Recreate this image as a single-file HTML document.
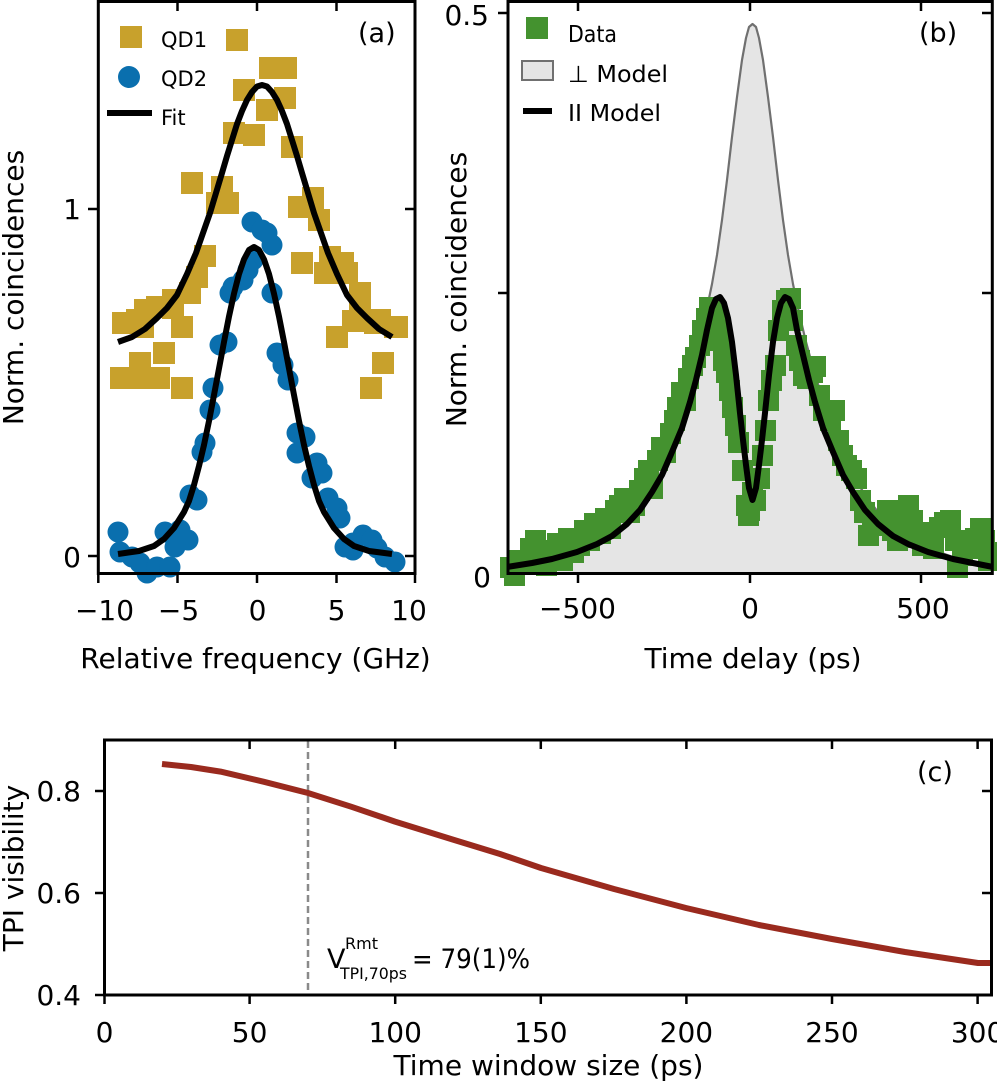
<!DOCTYPE html>
<html>
<head>
<meta charset="utf-8">
<style>
  html, body { margin: 0; padding: 0; background: #ffffff; }
  body { width: 997px; height: 1089px; overflow: hidden; }
  svg { display: block; }
  text { font-family: "DejaVu Sans", "Liberation Sans", sans-serif; fill: #000; }
</style>
</head>
<body>
<svg width="997" height="1089" viewBox="0 0 997 1089" xmlns="http://www.w3.org/2000/svg">
  <rect x="0" y="0" width="997" height="1089" fill="#ffffff"/>

  <!-- ================= PANEL (a) ================= -->
  <path fill="#C8A12C" d="
M226 29h22v22h-22z M259 57h22v22h-22z M275 57h22v22h-22z M233 79h22v22h-22z M274 87h22v22h-22z
M256 99h22v22h-22z M223 122h22v22h-22z M243 124h22v22h-22z M281 136h22v22h-22z M181 172h22v22h-22z
M211 176h22v22h-22z M206 192h22v22h-22z M217 192h22v22h-22z M288 196h22v22h-22z M302 187h22v22h-22z
M308 209h22v22h-22z M194 245h22v22h-22z M291 252h22v22h-22z M319 246h22v22h-22z M332 252h22v22h-22z
M314 262h22v22h-22z M336 262h22v22h-22z M186 266h22v22h-22z M179 282h22v22h-22z M162 289h22v22h-22z
M146 296h22v22h-22z M134 299h22v22h-22z M112 312h22v22h-22z M349 282h22v22h-22z M349 299h22v22h-22z
M369 309h22v22h-22z M386 316h22v22h-22z M126 309h22v22h-22z M132 316h22v22h-22z M162 297h22v22h-22z
M171 316h22v22h-22z M153 342h22v22h-22z M129 352h22v22h-22z M110 367h22v22h-22z M132 367h22v22h-22z
M148 367h22v22h-22z M171 377h22v22h-22z M326 326h22v22h-22z M342 310h22v22h-22z M364 312h22v22h-22z
M384 316h22v22h-22z M372 352h22v22h-22z M360 377h22v22h-22z"/>

  <g fill="#0A6FAE">
    <circle cx="252" cy="222" r="10.5"/><circle cx="262" cy="230" r="10.5"/><circle cx="267" cy="233" r="10.5"/>
    <circle cx="272" cy="245" r="10.5"/><circle cx="253" cy="260" r="10.5"/><circle cx="248" cy="270" r="10.5"/>
    <circle cx="243" cy="280" r="10.5"/><circle cx="233" cy="287" r="10.5"/><circle cx="230" cy="293" r="10.5"/>
    <circle cx="272" cy="293" r="10.5"/><circle cx="227" cy="342" r="10.5"/><circle cx="220" cy="345" r="10.5"/>
    <circle cx="277" cy="353" r="10.5"/><circle cx="283" cy="365" r="10.5"/><circle cx="288" cy="380" r="10.5"/>
    <circle cx="213" cy="388" r="10.5"/><circle cx="210" cy="410" r="10.5"/><circle cx="205" cy="443" r="10.5"/>
    <circle cx="202" cy="452" r="10.5"/><circle cx="297" cy="433" r="10.5"/><circle cx="305" cy="437" r="10.5"/>
    <circle cx="297" cy="453" r="10.5"/><circle cx="317" cy="463" r="10.5"/><circle cx="322" cy="473" r="10.5"/>
    <circle cx="312" cy="478" r="10.5"/><circle cx="328" cy="498" r="10.5"/><circle cx="337" cy="508" r="10.5"/>
    <circle cx="340" cy="518" r="10.5"/><circle cx="190" cy="495" r="10.5"/><circle cx="197" cy="500" r="10.5"/>
    <circle cx="118" cy="532" r="10.5"/><circle cx="120" cy="552" r="10.5"/><circle cx="132" cy="557" r="10.5"/>
    <circle cx="140" cy="563" r="10.5"/><circle cx="147" cy="573" r="10.5"/><circle cx="157" cy="567" r="10.5"/>
    <circle cx="170" cy="567" r="10.5"/><circle cx="165" cy="532" r="10.5"/><circle cx="180" cy="530" r="10.5"/>
    <circle cx="188" cy="540" r="10.5"/><circle cx="175" cy="547" r="10.5"/><circle cx="345" cy="547" r="10.5"/>
    <circle cx="353" cy="543" r="10.5"/><circle cx="363" cy="535" r="10.5"/><circle cx="372" cy="540" r="10.5"/>
    <circle cx="377" cy="548" r="10.5"/><circle cx="385" cy="557" r="10.5"/><circle cx="395" cy="562" r="10.5"/>
    <circle cx="353" cy="550" r="10.5"/>
  </g>

  <g fill="none" stroke="#000" stroke-width="6" stroke-linejoin="round" stroke-linecap="butt">
    <polyline points="118,342 132,337 145,329 157,318 167,308 177,295 187,274 196,253 203,233 210,213 216,193 222,173 227,156 232,140 237,124 242,111 247,100 252,92 257,86.5 262,85 267,86.5 272,92 277,100 282,111 287,124 292,140 297,156 302,173 308,193 314,213 321,233 328,253 337,274 347,295 357,308 367,318 379,329 392,337"/>
    <polyline points="118,554 139,551 154,546 164,539 174,528 184,512 189,501 194,485 199,466 204,445 209,421 214,395 219,368.5 224,342 229,316.5 234,293.6 239,274 244,259.4 249,250 254,247 259,250 264,259.4 269,274 274,293.6 279,316.5 284,342 289,368.5 294,395 299,421 304,445 309,466 314,485 319,501 324,512 334,528 344,539 354,546 369,551 392,554"/>
  </g>

  <rect x="98.3" y="1.5" width="316.7" height="572" fill="none" stroke="#000" stroke-width="3"/>
  <g stroke="#000" stroke-width="2.5">
    <line x1="98.3" y1="573" x2="98.3" y2="583"/>
    <line x1="177.5" y1="573" x2="177.5" y2="583"/>
    <line x1="257" y1="573" x2="257" y2="583"/>
    <line x1="336.5" y1="573" x2="336.5" y2="583"/>
    <line x1="415" y1="573" x2="415" y2="583"/>
    <line x1="177.5" y1="1" x2="177.5" y2="11"/>
    <line x1="257" y1="1" x2="257" y2="11"/>
    <line x1="336.5" y1="1" x2="336.5" y2="11"/>
    <line x1="88" y1="209" x2="98" y2="209"/>
    <line x1="88" y1="556" x2="98" y2="556"/>
    <line x1="405" y1="209" x2="415" y2="209"/>
    <line x1="405" y1="556" x2="415" y2="556"/>
  </g>
  <g font-size="28">
    <text x="81" y="219" text-anchor="end">1</text>
    <text x="81" y="567" text-anchor="end">0</text>
    <text x="104.5" y="620" text-anchor="middle">−10</text>
    <text x="178.5" y="620" text-anchor="middle">−5</text>
    <text x="257.5" y="620" text-anchor="middle">0</text>
    <text x="336.5" y="620" text-anchor="middle">5</text>
    <text x="409" y="620" text-anchor="middle">10</text>
    <text x="255.5" y="668" text-anchor="middle">Relative frequency (GHz)</text>
    <text transform="translate(23,287.5) rotate(-90)" text-anchor="middle">Norm. coincidences</text>
  </g>
  <rect x="120" y="26" width="22" height="22" fill="#C8A12C"/>
  <circle cx="129" cy="77" r="11" fill="#0A6FAE"/>
  <line x1="107" y1="113" x2="152" y2="113" stroke="#000" stroke-width="6"/>
  <g font-size="21">
    <text x="161" y="47">QD1</text>
    <text x="161" y="86">QD2</text>
    <text x="161" y="125">Fit</text>
  </g>
  <text x="358" y="42" font-size="27">(a)</text>

  <!-- ================= PANEL (b) ================= -->
  <path fill="#E5E5E5" stroke="none" d="M507,573 L507,567 532,562 552,557 577,548 597,537 612,526 627,512 640,495 652,475 662,455 672,430 682,400 692,368 700,338 707,308 712,284 717,255 722,220 727,180 732,137 737,97 742,60 746,38 749,27 752.5,24 756,27 759,38 763,60 768,97 773,137 778,180 783,220 788,255 793,284 798,308 805,338 813,368 823,400 833,430 843,455 853,475 865,495 878,512 893,526 908,537 928,548 953,557 973,562 993,567 L993,573 Z"/>
  <polyline fill="none" stroke="#707070" stroke-width="2.2" stroke-linejoin="round" points="507,567 532,562 552,557 577,548 597,537 612,526 627,512 640,495 652,475 662,455 672,430 682,400 692,368 700,338 707,308 712,284 717,255 722,220 727,180 732,137 737,97 742,60 746,38 749,27 752.5,24 756,27 759,38 763,60 768,97 773,137 778,180 783,220 788,255 793,284 798,308 805,338 813,368 823,400 833,430 843,455 853,475 865,495 878,512 893,526 908,537 928,548 953,557 973,562 993,567"/>

  <path fill="#44922F" d="
M500 557h21v21h-21z M504 565h21v21h-21z M509 550h21v21h-21z M515 552h21v21h-21z M520 538h21v21h-21z
M525 530h21v21h-21z M530 546h21v21h-21z M536 555h21v21h-21z M542 540h21v21h-21z M547 533h21v21h-21z
M552 550h21v21h-21z M558 528h21v21h-21z M563 542h21v21h-21z M569 535h21v21h-21z M574 520h21v21h-21z
M579 530h21v21h-21z M584 513h21v21h-21z M590 523h21v21h-21z M595 508h21v21h-21z M600 518h21v21h-21z
M605 500h21v21h-21z M609 495h21v21h-21z M614 488h21v21h-21z M619 502h21v21h-21z M624 495h21v21h-21z
M629 480h21v21h-21z M634 468h21v21h-21z M638 460h21v21h-21z M642 478h21v21h-21z M647 450h21v21h-21z
M651 437h21v21h-21z M655 442h21v21h-21z M660 423h21v21h-21z M664 410h21v21h-21z M667 397h21v21h-21z
M671 382h21v21h-21z M675 390h21v21h-21z M678 368h21v21h-21z M682 355h21v21h-21z M685 347h21v21h-21z
M689 335h21v21h-21z M692 320h21v21h-21z M696 308h21v21h-21z M699 297h21v21h-21z M703 303h21v21h-21z
M707 312h21v21h-21z M710 330h21v21h-21z M713 350h21v21h-21z M716 362h21v21h-21z M719 380h21v21h-21z
M722 397h21v21h-21z M725 415h21v21h-21z M728 432h21v21h-21z M732 460h21v21h-21z M736 495h21v21h-21z
M738 505h21v21h-21z M739 500h21v21h-21z M742 482h21v21h-21z M745 490h21v21h-21z M749 468h21v21h-21z
M752 445h21v21h-21z M755 420h21v21h-21z M758 390h21v21h-21z M761 370h21v21h-21z M765 355h21v21h-21z
M768 320h21v21h-21z M772 300h21v21h-21z M776 290h21v21h-21z M780 288h21v21h-21z M782 310h21v21h-21z
M786 335h21v21h-21z M789 350h21v21h-21z M793 365h21v21h-21z M797 368h21v21h-21z M802 362h21v21h-21z
M805 356h21v21h-21z M809 385h21v21h-21z M813 400h21v21h-21z M820 410h21v21h-21z M824 400h21v21h-21z
M828 430h21v21h-21z M832 445h21v21h-21z M836 455h21v21h-21z M841 460h21v21h-21z M846 468h21v21h-21z
M850 490h21v21h-21z M854 502h21v21h-21z M858 525h21v21h-21z M862 512h21v21h-21z M867 510h21v21h-21z
M872 515h21v21h-21z M877 500h21v21h-21z M882 520h21v21h-21z M887 530h21v21h-21z M893 502h21v21h-21z
M898 495h21v21h-21z M902 510h21v21h-21z M907 527h21v21h-21z M912 535h21v21h-21z M917 522h21v21h-21z
M923 538h21v21h-21z M929 517h21v21h-21z M934 512h21v21h-21z M940 510h21v21h-21z M945 530h21v21h-21z
M947 557h21v21h-21z M952 545h21v21h-21z M958 538h21v21h-21z M965 528h21v21h-21z M970 518h21v21h-21z
M974 530h21v21h-21z M978 550h21v21h-21z M983 542h21v21h-21z"/>

  <polyline fill="none" stroke="#000" stroke-width="6" stroke-linejoin="round" points="507,567 532,563 552,559 577,552 597,544 612,536 627,524 640,510 652,492 662,475 672,452 682,428 690,402 696,380 702,355 707,330 712,308 716,299 720,297 724,303 728,318 732,342 736,375 740,413 743,440 746,465 749,488 752.5,500 756,488 759,465 762,440 765,413 769,375 773,342 777,318 781,303 785,297 789,299 793,308 797,330 803,355 809,380 815,402 823,428 833,452 843,475 853,492 865,510 878,524 893,536 908,544 928,552 953,559 973,563 993,567"/>

  <rect x="508" y="1.5" width="484.3" height="572" fill="none" stroke="#000" stroke-width="3"/>
  <g stroke="#000" stroke-width="2.5">
    <line x1="498" y1="13" x2="508" y2="13"/>
    <line x1="498" y1="293" x2="508" y2="293"/>
    <line x1="982" y1="13" x2="992" y2="13"/>
    <line x1="982" y1="293" x2="992" y2="293"/>
    <line x1="578" y1="1" x2="578" y2="11"/>
    <line x1="750" y1="1" x2="750" y2="11"/>
    <line x1="921" y1="1" x2="921" y2="11"/>
    <line x1="578" y1="573" x2="578" y2="583"/>
    <line x1="750" y1="573" x2="750" y2="583"/>
    <line x1="921" y1="573" x2="921" y2="583"/>
  </g>
  <g font-size="28">
    <text x="489" y="25" text-anchor="end">0.5</text>
    <text x="491" y="587" text-anchor="end">0</text>
    <text x="577.5" y="618" text-anchor="middle">−500</text>
    <text x="750" y="618" text-anchor="middle">0</text>
    <text x="923" y="618" text-anchor="middle">500</text>
    <text x="753" y="668" text-anchor="middle">Time delay (ps)</text>
    <text transform="translate(466,289.5) rotate(-90)" text-anchor="middle">Norm. coincidences</text>
  </g>
  <rect x="526" y="17" width="22" height="22" fill="#44922F"/>
  <rect x="522" y="61" width="31" height="19" fill="#E5E5E5" stroke="#707070" stroke-width="2"/>
  <line x1="523" y1="111" x2="552" y2="111" stroke="#000" stroke-width="6"/>
  <g font-size="23">
    <text x="568" y="42" textLength="49" lengthAdjust="spacingAndGlyphs">Data</text>
    <text x="568" y="82" textLength="100" lengthAdjust="spacingAndGlyphs">⊥ Model</text>
    <text x="568" y="121" textLength="93" lengthAdjust="spacingAndGlyphs">II Model</text>
  </g>
  <text x="919" y="42" font-size="27">(b)</text>

  <!-- ================= PANEL (c) ================= -->
  <line x1="308" y1="741" x2="308" y2="994" stroke="#8A8A8A" stroke-width="2.5" stroke-dasharray="7,4"/>
  <polyline fill="none" stroke="#9A2A1E" stroke-width="6" stroke-linejoin="round" points="162,764 191,767 220.5,771.6 264,781.8 308,793 351.5,806.8 395,821.6 453,839.6 500,854 541,868 614,889 686,908 759,925 832,939 905,952 978,963 991,963"/>

  <rect x="104.5" y="740" width="887" height="255" fill="none" stroke="#000" stroke-width="3"/>
  <g stroke="#000" stroke-width="2.5">
    <line x1="104.5" y1="995" x2="104.5" y2="1004"/>
    <line x1="249.6" y1="995" x2="249.6" y2="1004"/>
    <line x1="395.2" y1="995" x2="395.2" y2="1004"/>
    <line x1="540.8" y1="995" x2="540.8" y2="1004"/>
    <line x1="686.4" y1="995" x2="686.4" y2="1004"/>
    <line x1="832" y1="995" x2="832" y2="1004"/>
    <line x1="977.6" y1="995" x2="977.6" y2="1004"/>
    <line x1="249.6" y1="740" x2="249.6" y2="749"/>
    <line x1="395.2" y1="740" x2="395.2" y2="749"/>
    <line x1="540.8" y1="740" x2="540.8" y2="749"/>
    <line x1="686.4" y1="740" x2="686.4" y2="749"/>
    <line x1="832" y1="740" x2="832" y2="749"/>
    <line x1="977.6" y1="740" x2="977.6" y2="749"/>
    <line x1="95" y1="791" x2="104" y2="791"/>
    <line x1="95" y1="893" x2="104" y2="893"/>
    <line x1="95" y1="995" x2="104" y2="995"/>
    <line x1="982" y1="791" x2="991" y2="791"/>
    <line x1="982" y1="893" x2="991" y2="893"/>
  </g>
  <g font-size="28">
    <text x="81" y="801" text-anchor="end">0.8</text>
    <text x="81" y="903" text-anchor="end">0.6</text>
    <text x="81" y="1005" text-anchor="end">0.4</text>
    <text x="104.5" y="1042" text-anchor="middle">0</text>
    <text x="249.6" y="1042" text-anchor="middle">50</text>
    <text x="395.2" y="1042" text-anchor="middle">100</text>
    <text x="540.8" y="1042" text-anchor="middle">150</text>
    <text x="686.4" y="1042" text-anchor="middle">200</text>
    <text x="832" y="1042" text-anchor="middle">250</text>
    <text x="977.6" y="1042" text-anchor="middle">300</text>
    <text x="548.5" y="1075" text-anchor="middle">Time window size (ps)</text>
    <text transform="translate(23,868) rotate(-90)" text-anchor="middle">TPI visibility</text>
  </g>
  <text x="917" y="781" font-size="27">(c)</text>

  <text x="327" y="968" font-size="27">V</text>
  <text x="345" y="949" font-size="16">Rmt</text>
  <text x="340" y="979" font-size="16" textLength="67" lengthAdjust="spacingAndGlyphs">TPI,70ps</text>
  <text x="412" y="968" font-size="27" textLength="118" lengthAdjust="spacingAndGlyphs">= 79(1)%</text>
</svg>
</body>
</html>
